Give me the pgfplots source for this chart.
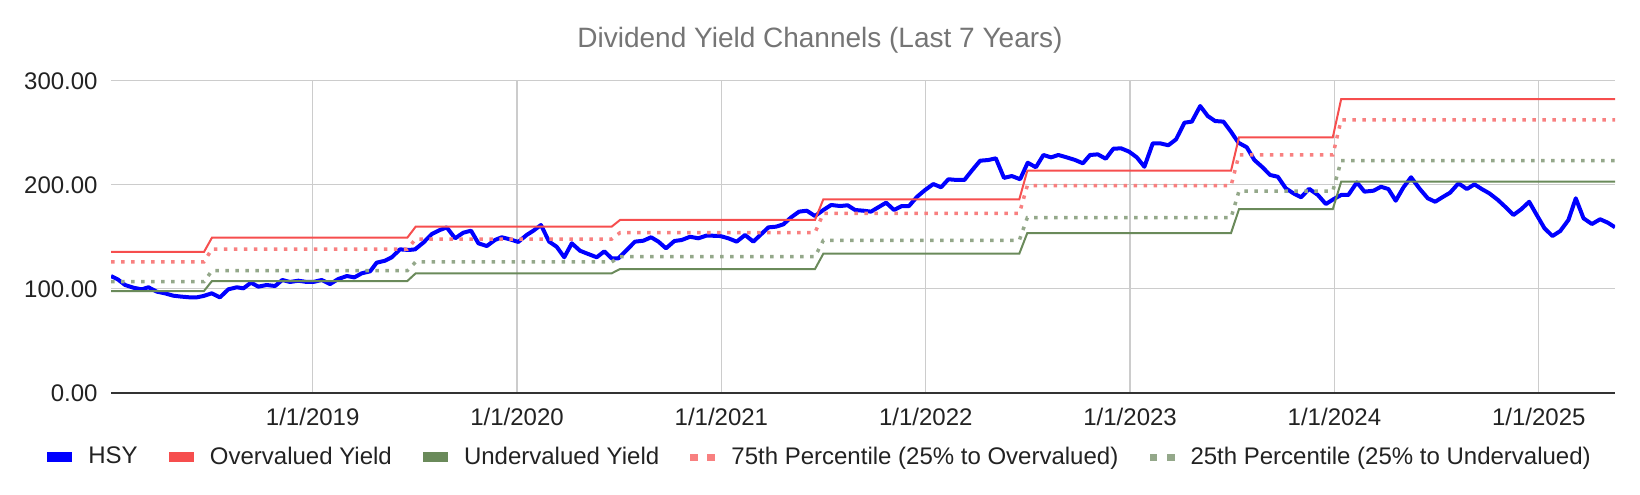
\documentclass[border=0pt]{standalone}
\usepackage{fontspec}
\setmainfont{Liberation Sans}
\usepackage{pgfplots}
\usepackage{pgfplotstable}
\pgfplotsset{compat=1.18}
\definecolor{hsyblue}{RGB}{0,0,255}
\definecolor{overred}{RGB}{246,78,78}
\definecolor{undergreen}{RGB}{106,138,90}
\definecolor{p75red}{RGB}{248,128,128}
\definecolor{p25green}{RGB}{148,168,138}
\definecolor{gridgray}{RGB}{204,204,204}
\definecolor{axisdark}{RGB}{51,51,51}
\definecolor{titlegray}{RGB}{117,117,117}
\definecolor{labelblack}{RGB}{34,34,34}

\pgfplotstableread{
date val
2018.013 112.3
2018.046 109.1
2018.082 103.7
2018.122 101.1
2018.163 99.5
2018.196 101.5
2018.237 97.3
2018.277 95.7
2018.318 93.4
2018.359 92.5
2018.400 91.8
2018.432 91.8
2018.465 93.1
2018.506 95.7
2018.546 91.8
2018.587 99.5
2018.628 101.5
2018.661 100.5
2018.698 105.9
2018.734 102.1
2018.775 103.7
2018.816 102.7
2018.851 108.5
2018.889 106.6
2018.930 107.8
2018.971 106.6
2019.003 106.6
2019.044 108.5
2019.085 104.6
2019.125 109.4
2019.167 112.3
2019.204 111.0
2019.240 114.9
2019.281 116.8
2019.313 125.1
2019.354 127.0
2019.387 130.3
2019.427 137.9
2019.471 137.3
2019.501 137.9
2019.541 144.3
2019.583 152.6
2019.623 156.5
2019.656 159.0
2019.697 148.5
2019.737 153.9
2019.775 155.8
2019.811 143.7
2019.852 141.1
2019.892 146.9
2019.925 149.5
2019.966 147.5
2020.006 145.0
2020.047 151.7
2020.080 155.8
2020.117 161.3
2020.157 145.3
2020.194 140.4
2020.231 130.3
2020.268 143.7
2020.308 136.6
2020.349 133.4
2020.390 130.3
2020.427 136.0
2020.463 129.3
2020.496 129.3
2020.537 137.3
2020.577 145.3
2020.618 146.2
2020.656 149.5
2020.692 145.3
2020.729 138.9
2020.770 145.9
2020.806 146.9
2020.847 150.0
2020.887 148.5
2020.928 151.2
2020.994 150.7
2021.034 148.5
2021.075 145.3
2021.116 151.7
2021.156 145.3
2021.194 152.3
2021.230 159.0
2021.268 159.7
2021.303 161.9
2021.341 168.6
2021.380 174.1
2021.418 175.0
2021.458 169.9
2021.499 175.7
2021.537 180.5
2021.581 179.5
2021.618 180.2
2021.654 175.7
2021.695 175.0
2021.732 174.1
2021.768 178.3
2021.806 182.7
2021.845 175.7
2021.883 179.5
2021.918 179.5
2021.958 188.5
2021.997 194.9
2022.037 200.6
2022.075 197.5
2022.111 205.2
2022.152 204.5
2022.189 204.5
2022.228 214.1
2022.266 223.0
2022.307 223.7
2022.343 225.3
2022.383 206.5
2022.421 208.3
2022.462 205.2
2022.499 221.1
2022.539 216.7
2022.576 228.5
2022.613 226.2
2022.649 228.5
2022.690 226.2
2022.731 223.7
2022.769 220.5
2022.804 228.5
2022.842 229.1
2022.881 224.9
2022.918 234.5
2022.956 234.9
2022.995 231.7
2023.033 226.2
2023.070 217.2
2023.111 239.7
2023.147 239.7
2023.187 237.8
2023.225 243.5
2023.266 259.5
2023.302 260.5
2023.343 275.5
2023.380 265.9
2023.416 261.1
2023.457 260.5
2023.494 250.8
2023.530 240.3
2023.571 235.9
2023.608 223.7
2023.648 216.7
2023.685 209.3
2023.723 207.6
2023.762 196.5
2023.799 191.7
2023.837 187.9
2023.876 196.0
2023.919 190.1
2023.958 181.4
2023.995 186.0
2024.033 190.1
2024.068 190.1
2024.110 202.2
2024.147 193.3
2024.191 194.2
2024.228 198.0
2024.264 195.8
2024.300 184.6
2024.338 197.5
2024.375 207.1
2024.419 195.6
2024.457 186.9
2024.493 183.6
2024.528 187.9
2024.566 192.3
2024.607 201.3
2024.648 195.8
2024.685 200.3
2024.721 195.8
2024.758 191.7
2024.800 185.3
2024.835 178.9
2024.876 170.9
2024.914 176.4
2024.953 183.6
2024.990 170.9
2025.028 158.1
2025.067 150.7
2025.105 155.5
2025.145 166.1
2025.181 186.9
2025.219 167.7
2025.260 162.2
2025.300 166.8
2025.338 163.5
2025.373 159.1
}\hsy

\pgfplotstableread{
date over under pseventyfive ptwentyfive
2018.013 135.4 97.9 126.0 106.9
2018.468 135.4 97.9 126.0 106.9
2018.507 149.1 107.5 138.2 117.4
2019.463 149.1 107.5 138.2 117.4
2019.504 159.7 114.9 147.8 125.8
2020.463 159.7 114.9 147.8 125.8
2020.504 166.1 119.0 153.9 130.9
2021.458 166.1 119.0 153.9 130.9
2021.499 186.0 133.8 172.5 146.6
2022.458 186.0 133.8 172.5 146.6
2022.497 213.4 153.6 199.0 168.3
2023.494 213.4 153.6 199.0 168.3
2023.533 245.5 176.5 228.5 193.9
2023.992 245.5 176.5 228.5 193.9
2024.033 282.2 202.9 262.1 223.0
2025.373 282.2 202.9 262.1 223.0
}\channels

\begin{document}
\begin{tikzpicture}
\path[use as bounding box] (0,0) rectangle (820pt,247pt);
\begin{axis}[
  at={(55.5pt,50.5pt)}, anchor=south west,
  scale only axis, width=752pt, height=156.25pt,
  xmin=2018.013, xmax=2025.373, ymin=0, ymax=300,
  xtick={2019,2020,2021,2022,2023,2024,2025},
  xticklabels={1/1/2019,1/1/2020,1/1/2021,1/1/2022,1/1/2023,1/1/2024,1/1/2025},
  ytick={0,100,200,300},
  yticklabels={0.00,100.00,200.00,300.00},
  major tick length=0pt,
  grid=major,
  major grid style={line width=0.65pt, draw=gridgray},
  axis x line=bottom, axis y line=left,
  axis line style={-},
  y axis line style={draw=none},
  x axis line style={line width=1pt, draw=axisdark},
  tick label style={font=\fontsize{12}{14}\selectfont, text=labelblack, inner sep=0pt},
  xticklabel style={anchor=base, yshift=-16.15pt},
  yticklabel style={anchor=base east, xshift=-6.5pt, yshift=-4.3pt},
  title={Dividend Yield Channels (Last 7 Years)},
  title style={at={(axis description cs:0.4714,1.1072)}, anchor=base, yshift=-6pt, font=\fontsize{14}{16}\selectfont, text=titlegray, inner sep=0pt},
  legend columns=5,
  legend style={at={(axis description cs:-0.04255,-0.2048)}, anchor=west, draw=none, fill=none, inner sep=0pt, font=\fontsize{12}{14}\selectfont, text=labelblack, nodes={inner sep=0pt},
    /tikz/every odd column/.append style={column sep=8pt},
    /tikz/every even column/.append style={column sep=15.6pt}},
]
\addplot[hsyblue, line width=2pt, line join=round,
  legend image code/.code={\fill[hsyblue, draw=none] (0pt,-2.3pt) rectangle (12.5pt,2.3pt);}]
  table[x=date, y=val]{\hsy};
\addlegendentry{HSY}
\addplot[overred, line width=1pt,
  legend image code/.code={\fill[overred, draw=none] (0pt,-2.3pt) rectangle (12.5pt,2.3pt);}]
  table[x=date, y=over]{\channels};
\addlegendentry{Overvalued Yield}
\addplot[undergreen, line width=1pt,
  legend image code/.code={\fill[undergreen, draw=none] (0pt,-2.3pt) rectangle (12.5pt,2.3pt);}]
  table[x=date, y=under]{\channels};
\addlegendentry{Undervalued Yield}
\addplot[p75red, line width=1.75pt, dash pattern=on 1.75pt off 3.25pt,
  legend image code/.code={\fill[p75red, draw=none] (0pt,-1.75pt) rectangle (3.75pt,1.75pt); \fill[p75red, draw=none] (8.5pt,-1.75pt) rectangle (12.5pt,1.75pt);}]
  table[x=date, y=pseventyfive]{\channels};
\addlegendentry{75th Percentile (25\% to Overvalued)}
\addplot[p25green, line width=1.75pt, dash pattern=on 1.75pt off 3.25pt,
  legend image code/.code={\fill[p25green, draw=none] (0pt,-1.75pt) rectangle (3.75pt,1.75pt); \fill[p25green, draw=none] (8.5pt,-1.75pt) rectangle (12.5pt,1.75pt);}]
  table[x=date, y=ptwentyfive]{\channels};
\addlegendentry{25th Percentile (25\% to Undervalued)}
\end{axis}
\end{tikzpicture}
\end{document}
